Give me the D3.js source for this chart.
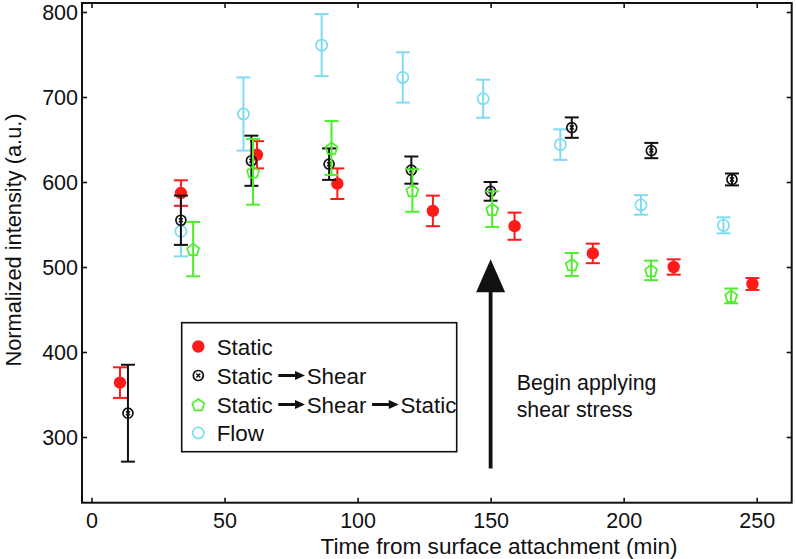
<!DOCTYPE html>
<html>
<head>
<meta charset="utf-8">
<script src="https://cdn.jsdelivr.net/npm/d3@7"></script>
<style>
  html, body { margin: 0; padding: 0; background: #fff; }
  svg { display: block; }
  text { font-family: "Liberation Sans", Arial, Helvetica, sans-serif; fill: #111; }
</style>
</head>
<body>
<svg id="chart" width="796" height="559"></svg>
<script>
// ---- Data ----
const staticX   = [10.7, 33.6, 62.2, 92.4, 128.3, 159.0, 188.4, 218.8, 248.4];
const staticY   = [364, 587, 632, 598, 566, 548, 516, 500, 480];
const staticErr = [18, 15, 16, 18, 18, 16, 11.5, 9, 7];

const shearX   = [13.7, 33.6, 60.1, 89.3, 120.2, 150.0, 180.5, 210.4, 240.7];
const shearY   = [328, 555, 625, 621, 614, 589, 664, 637, 603];
const shearErr = [57, 29, 29.5, 18.5, 16, 11, 12, 9, 7];

const shearStaticX   = [38.2, 60.7, 90.2, 120.6, 150.6, 180.5, 210.3, 240.4];
const shearStaticY   = [521, 612, 640, 590, 568, 503, 496, 466];
const shearStaticErr = [32, 38.7, 31.7, 25, 21, 13.5, 11.5, 8.7];

const flowX   = [33.6, 57.1, 86.5, 117.0, 147.2, 176.2, 206.5, 237.5];
const flowY   = [542, 680, 761, 723, 698, 644, 573, 549];
const flowErr = [29.5, 43, 36.5, 29.6, 22.4, 18, 11.5, 9.4];

const xTicks = [0, 50, 100, 150, 200, 250];
const yTicks = [300, 400, 500, 600, 700, 800];

const arrowX = 150, arrowFromY = 263, arrowToY = 509;
const annotation = ["Begin applying", "shear stress"];
const xTitle = "Time from surface attachment (min)";
const yTitle = "Normalized intensity (a.u.)";

// ---- Layout ----
const svg = d3.select("#chart");
const frame = {left: 82, top: 3, right: 791.7, bottom: 502.7};
const x = d3.scaleLinear().domain([0, 250]).range([91.5, 756.7]);
const y = d3.scaleLinear().domain([300, 800]).range([437, 12]);
const FS = 21.5;

const colors = {
  static: "#ff1a1a",
  shear: "#111111",
  shearStatic: "#4ded2b",
  flow: "#7fdbf2"
};

// ---- Axes (box with inward ticks on all sides) ----
const tickLen = 5;
const axB = svg.append("g").attr("transform", `translate(0,${frame.bottom})`)
  .call(d3.axisBottom(x).tickValues(xTicks).tickSizeInner(-tickLen).tickSizeOuter(0).tickPadding(10));
const axT = svg.append("g").attr("transform", `translate(0,${frame.top})`)
  .call(d3.axisTop(x).tickValues(xTicks).tickSizeInner(-tickLen).tickSizeOuter(0).tickFormat(""));
const axL = svg.append("g").attr("transform", `translate(${frame.left},0)`)
  .call(d3.axisLeft(y).tickValues(yTicks).tickSizeInner(-tickLen).tickSizeOuter(0).tickPadding(8));
const axR = svg.append("g").attr("transform", `translate(${frame.right},0)`)
  .call(d3.axisRight(y).tickValues(yTicks).tickSizeInner(-tickLen).tickSizeOuter(0).tickFormat(""));
[axB, axT, axL, axR].forEach(a => {
  a.select(".domain").remove();
  a.selectAll(".tick line").attr("stroke", "#111").attr("stroke-width", 1.6);
  a.selectAll("text").attr("font-size", FS).attr("fill", "#111")
    .attr("font-family", "'Liberation Sans', Arial, sans-serif");
});
axB.selectAll(".tick text").attr("dy", null).attr("y", 25);
axL.selectAll(".tick text").attr("dy", "0.36em").attr("x", -4);

svg.append("rect")
  .attr("x", frame.left).attr("y", frame.top)
  .attr("width", frame.right - frame.left).attr("height", frame.bottom - frame.top)
  .attr("fill", "none").attr("stroke", "#111").attr("stroke-width", 2);

// axis titles
svg.append("text").attr("x", 499).attr("y", 554).attr("text-anchor", "middle")
  .attr("font-size", 22.6).text(xTitle);
svg.append("text").attr("transform", "translate(21,240) rotate(-90)")
  .attr("text-anchor", "middle").attr("font-size", 21.8).text(yTitle);

// ---- Marker helpers ----
function pentagonPath(r) {
  const pts = d3.range(5).map(i => {
    const a = -Math.PI / 2 + i * 2 * Math.PI / 5;
    return [r * Math.cos(a), r * Math.sin(a)];
  });
  return "M" + pts.map(p => p.join(",")).join("L") + "Z";
}
function drawMarker(g, kind) {
  if (kind === "static") {
    g.append("circle").attr("r", 6.2).attr("fill", colors.static);
  } else if (kind === "shear") {
    g.append("circle").attr("r", 5).attr("fill", "none").attr("stroke", colors.shear).attr("stroke-width", 1.7);
    g.append("path").attr("d", "M-2,-2L2,2M-2,2L2,-2").attr("stroke", colors.shear).attr("stroke-width", 1.4);
  } else if (kind === "shearStatic") {
    g.append("path").attr("d", pentagonPath(6.3)).attr("transform", "translate(0,0.8)")
      .attr("fill", "none").attr("stroke", colors.shearStatic).attr("stroke-width", 1.7);
  } else {
    g.append("circle").attr("r", 5.6).attr("fill", "none").attr("stroke", colors.flow).attr("stroke-width", 1.7);
  }
}

const series = [
  {key: "flow", xs: flowX, ys: flowY, es: flowErr},
  {key: "static", xs: staticX, ys: staticY, es: staticErr},
  {key: "shear", xs: shearX, ys: shearY, es: shearErr},
  {key: "shearStatic", xs: shearStaticX, ys: shearStaticY, es: shearStaticErr}
];
const cap = 7;
series.forEach(s => {
  const data = s.xs.map((v, i) => ({x: v, y: s.ys[i], e: s.es[i]}));
  const g = svg.append("g").attr("class", "series-" + s.key);
  const pts = g.selectAll("g.pt").data(data).join("g").attr("class", "pt");
  pts.each(function(d) {
    const p = d3.select(this);
    const cx = x(d.x), y1 = y(d.y + d.e), y0 = y(d.y - d.e);
    const col = colors[s.key];
    p.append("line").attr("x1", cx).attr("x2", cx).attr("y1", y1).attr("y2", y0)
      .attr("stroke", col).attr("stroke-width", 2);
    p.append("line").attr("x1", cx - cap).attr("x2", cx + cap).attr("y1", y1).attr("y2", y1)
      .attr("stroke", col).attr("stroke-width", 2);
    p.append("line").attr("x1", cx - cap).attr("x2", cx + cap).attr("y1", y0).attr("y2", y0)
      .attr("stroke", col).attr("stroke-width", 2);
    const m = p.append("g").attr("transform", `translate(${cx},${y(d.y)})`);
    drawMarker(m, s.key);
  });
});

// ---- Big arrow annotation ----
const ax = x(arrowX), tipY = y(arrowToY), tailY = y(arrowFromY);
const headLen = 33, headHalf = 14.5;
svg.append("line").attr("x1", ax).attr("x2", ax).attr("y1", tailY).attr("y2", tipY + headLen - 1)
  .attr("stroke", "#111").attr("stroke-width", 3.8);
svg.append("path")
  .attr("d", `M${ax},${tipY}L${ax + headHalf},${tipY + headLen}L${ax - headHalf},${tipY + headLen}Z`)
  .attr("fill", "#111");
svg.append("text").attr("x", 516.7).attr("y", 390).attr("font-size", 21.3).text(annotation[0]);
svg.append("text").attr("x", 516.7).attr("y", 416.7).attr("font-size", 21.3).text(annotation[1]);

// ---- Legend ----
const LFS = 22.4;
const legend = svg.append("g");
legend.append("rect").attr("x", 181.7).attr("y", 322.7).attr("width", 275).attr("height", 129)
  .attr("fill", "#fff").attr("stroke", "#111").attr("stroke-width", 1.6);
const legendRows = [
  {key: "static", parts: ["Static"]},
  {key: "shear", parts: ["Static", "Shear"]},
  {key: "shearStatic", parts: ["Static", "Shear", "Static"]},
  {key: "flow", parts: ["Flow"]}
];
const rowY = [346.5, 375.5, 404.5, 433];
legendRows.forEach((r, i) => {
  const cy = rowY[i];
  drawMarker(legend.append("g").attr("transform", `translate(198.3,${cy})`), r.key);
  let tx = 216.7;
  r.parts.forEach((p, j) => {
    if (j > 0) {
      const a0 = tx + 5.6, a1 = tx + 32.3;
      legend.append("line").attr("x1", a0).attr("x2", a1 - 7).attr("y1", cy).attr("y2", cy)
        .attr("stroke", "#111").attr("stroke-width", 3);
      legend.append("path").attr("d", `M${a1},${cy}L${a1 - 10},${cy - 4.5}L${a1 - 10},${cy + 4.5}Z`).attr("fill", "#111");
      tx = a1 + 1.7;
    }
    const t = legend.append("text").attr("x", tx).attr("y", cy + 8).attr("font-size", LFS).text(p);
    tx += t.node().getComputedTextLength();
  });
});
</script>
</body>
</html>
